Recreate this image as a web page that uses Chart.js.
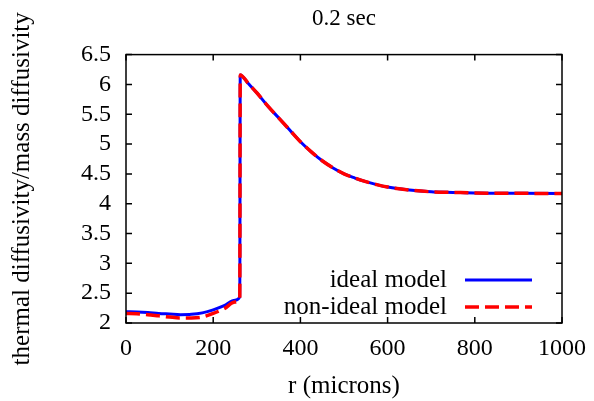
<!DOCTYPE html>
<html lang="en">
<head>
    <meta charset="UTF-8">
    <title>0.2 sec</title>
    <script src="https://cdn.jsdelivr.net/npm/chart.js"></script>
    <style>
        html, body { margin: 0; padding: 0; background: #fff; }
        #wrap { width: 594px; height: 401px; }
    </style>
</head>
<body>
    <div id="wrap"><canvas id="diffChart"></canvas></div>

    <script>
        // r (microns)
        const radius = [0, 25, 50, 75, 100, 125, 150, 175, 200, 225, 250, 261, 262, 280, 300, 325, 350, 375, 400, 425, 450, 475, 500, 525, 550, 575, 600, 650, 700, 750, 800, 900, 1000];
        const idealModel = [2.19, 2.185, 2.175, 2.16, 2.15, 2.14, 2.145, 2.17, 2.22, 2.29, 2.38, 2.44, 6.16, 6.02, 5.86, 5.64, 5.44, 5.24, 5.04, 4.87, 4.72, 4.60, 4.50, 4.43, 4.37, 4.32, 4.28, 4.23, 4.20, 4.19, 4.18, 4.175, 4.17];
        const nonIdealModel = [2.16, 2.155, 2.14, 2.12, 2.10, 2.085, 2.085, 2.10, 2.16, 2.24, 2.35, 2.42, 6.16, 6.02, 5.86, 5.64, 5.44, 5.24, 5.04, 4.87, 4.72, 4.60, 4.50, 4.43, 4.37, 4.32, 4.28, 4.23, 4.20, 4.19, 4.18, 4.175, 4.17];

        const xTicks = [0, 200, 400, 600, 800, 1000];
        const yTicks = [2, 2.5, 3, 3.5, 4, 4.5, 5, 5.5, 6, 6.5];

        Chart.defaults.font.family = "'Liberation Serif', 'DejaVu Serif', serif";
        Chart.defaults.color = '#000';

        const toPoints = (ys) => ys.map((y, i) => ({ x: radius[i], y: y }));

        // cadre + graduations vers l'intérieur, façon gnuplot
        const frame = {
            id: 'frame',
            afterDraw(chart) {
                const { ctx, chartArea: a, scales } = chart;
                const len = 6;
                ctx.save();
                ctx.strokeStyle = '#000';
                ctx.lineWidth = 1.5;
                ctx.strokeRect(a.left, a.top, a.right - a.left, a.bottom - a.top);
                ctx.beginPath();
                xTicks.forEach(v => {
                    const px = scales.x.getPixelForValue(v);
                    ctx.moveTo(px, a.bottom); ctx.lineTo(px, a.bottom - len);
                    ctx.moveTo(px, a.top); ctx.lineTo(px, a.top + len);
                });
                yTicks.forEach(v => {
                    const py = scales.y.getPixelForValue(v);
                    ctx.moveTo(a.left, py); ctx.lineTo(a.left + len, py);
                    ctx.moveTo(a.right, py); ctx.lineTo(a.right - len, py);
                });
                ctx.stroke();

                // légende dans le coin bas droit
                ctx.font = "25px 'Liberation Serif'";
                ctx.textAlign = 'right';
                ctx.textBaseline = 'middle';
                chart.data.datasets.forEach((ds, i) => {
                    const y = a.bottom - 43 + i * 27;
                    const xText = a.right - 115;
                    ctx.fillStyle = '#000';
                    ctx.fillText(ds.label, xText, y);
                    ctx.beginPath();
                    ctx.strokeStyle = ds.borderColor;
                    ctx.lineWidth = ds.borderWidth;
                    ctx.setLineDash(ds.borderDash || []);
                    ctx.moveTo(xText + 18, y);
                    ctx.lineTo(xText + 85, y);
                    ctx.stroke();
                });
                ctx.restore();
            }
        };

        new Chart(document.getElementById('diffChart'), {
            type: 'line',
            data: {
                datasets: [{
                    label: 'ideal model',
                    data: toPoints(idealModel),
                    borderColor: '#0000ff',
                    borderWidth: 3,
                    pointRadius: 0,
                    cubicInterpolationMode: 'monotone',
                    fill: false,
                    order: 1
                }, {
                    label: 'non-ideal model',
                    data: toPoints(nonIdealModel),
                    borderColor: '#ff0000',
                    borderWidth: 3.5,
                    borderDash: [14, 6],
                    pointRadius: 0,
                    cubicInterpolationMode: 'monotone',
                    fill: false,
                    order: 0
                }]
            },
            options: {
                responsive: true,
                maintainAspectRatio: false,
                animation: false,
                layout: { padding: { top: 0, right: 32, bottom: 0, left: 0 } },
                plugins: {
                    legend: { display: false },
                    tooltip: { enabled: false },
                    title: {
                        display: true,
                        fullSize: false,
                        text: '0.2 sec',
                        font: { size: 23, weight: 'normal' },
                        padding: { top: 5, bottom: 22 }
                    }
                },
                scales: {
                    x: {
                        type: 'linear',
                        min: 0, max: 1000,
                        afterBuildTicks: (s) => { s.ticks = xTicks.map(v => ({ value: v })); },
                        afterFit: (s) => { s.height = 78; s.paddingRight = 0; s.paddingLeft = 0; },
                        grid: { display: false, drawTicks: false },
                        border: { display: false },
                        ticks: { font: { size: 24 }, padding: 11, maxRotation: 0, autoSkip: false, callback: (v) => String(v) },
                        title: { display: true, text: 'r (microns)', font: { size: 25 }, padding: { top: 0, bottom: 0 } }
                    },
                    y: {
                        min: 2, max: 6.5,
                        afterBuildTicks: (s) => { s.ticks = yTicks.map(v => ({ value: v })); },
                        afterFit: (s) => { s.width = 126; },
                        grid: { display: false, drawTicks: false },
                        border: { display: false },
                        ticks: { font: { size: 24 }, padding: 15, autoSkip: false, callback: (v) => String(v) },
                        title: { display: true, text: 'thermal diffusivity/mass diffusivity', font: { size: 25 }, padding: { top: 7, bottom: 7 } }
                    }
                }
            },
            plugins: [frame]
        });
    </script>
</body>
</html>
